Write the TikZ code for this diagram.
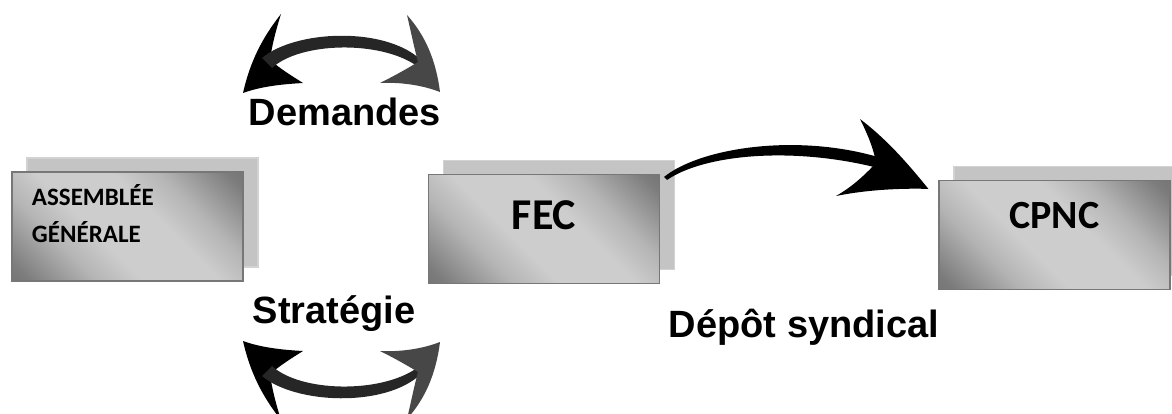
\documentclass[tikz,border=0pt]{standalone}
\usepackage{fontspec}
\setmainfont{Liberation Sans}
\newfontfamily\calib{Carlito}
\usetikzlibrary{shadows,calc}
\definecolor{boxdark}{HTML}{5C5C5C}
\definecolor{boxdk}{HTML}{7C7C7C}
\definecolor{boxmid}{HTML}{B4B4B4}
\definecolor{boxlight}{HTML}{CDCDCD}
\definecolor{shadowgray}{HTML}{C4C4C4}
\definecolor{shadowedge}{HTML}{D2D2D2}
\definecolor{edgegray}{HTML}{777777}
\pgfdeclareverticalshading{boxshade}{100bp}{color(0bp)=(boxdark); color(18bp)=(boxdk);
  color(32bp)=(boxmid); color(42bp)=(boxlight); color(58bp)=(boxlight); color(68bp)=(boxmid);
  color(82bp)=(boxdk); color(100bp)=(boxdark)}
\begin{document}
\begin{tikzpicture}[x=0.5pt,y=-0.5pt,
  box/.style={draw=edgegray, line width=0.6pt, minimum width=115.5pt, minimum height=54.5pt,
    inner sep=0pt, shading=boxshade, shading angle=-45,
    copy shadow={shadow xshift=7.5pt, shadow yshift=7pt, fill=shadowgray, draw=shadowedge}},
  lbl/.style={font=\bfseries\fontsize{19}{22}\selectfont, anchor=base, inner sep=0pt},
  brush/.style={fill=black, draw=none},
  brushlight/.style={fill=black!72, draw=none},
  brushmid/.style={fill=black!85, draw=none},
  dblarrow/.pic={
    % left head
    \fill[brush] (243,93) .. controls (250,62) and (262,38) .. (281,14)
      .. controls (276,30) and (272,45) .. (270,60)
      .. controls (282,70) and (292,76) .. (303,83)
      .. controls (285,84) and (262,86) .. (243,93) -- cycle;
    % shaft
    \fill[brushmid] (262,58) .. controls (295,30) and (385,26) .. (421,60) -- (417,66)
      .. controls (380,40) and (300,42) .. (272,68) -- cycle;
    % right head
    \fill[brushlight] (440,92) .. controls (436,60) and (425,35) .. (407,15)
      .. controls (411,32) and (414,47) .. (418,62)
      .. controls (405,70) and (392,77) .. (380,83)
      .. controls (400,82) and (422,85) .. (440,92) -- cycle;
  }]
\useasboundingbox (0,0) rectangle (1172,413);

% boxes
\node[box, font=\calib\bfseries\fontsize{12.5}{18.5}\selectfont, align=left, text width=95.5pt,
  inner xsep=10pt, text height=10pt, text depth=31.5pt] (ag) at (127.5,226.5) {ASSEMBLÉE\\GÉNÉRALE};
\node[box, font=\calib\bfseries\fontsize{22}{26}\selectfont, text height=14pt, text depth=13.5pt] (fec) at (544,229) {FEC};
\node[box, font=\calib\bfseries\fontsize{20}{24}\selectfont, text height=13pt, text depth=20pt] (cpnc) at (1054.5,235) {CPNC};

% labels
\node[lbl] (dem) at (345,125) {Demandes};
\node[lbl] (strat) at (334,323) {Stratégie};
\node[lbl] (depot) at (804,337) {Dépôt syndical};

% double arrows
\pic (top) at (0,0) {dblarrow};
\pic[yscale=-1] (bot) at (0,434) {dblarrow};

% FEC -> CPNC arrow
\coordinate (fecout) at ($(fec.north east)+(4,3)$);
\coordinate (cpncin) at ($(cpnc.north west)+(-10,9)$);
\fill[brush] (fecout) .. controls (700,148) and (795,133) .. (878,157) -- (882,169)
  .. controls (795,146) and (705,154) .. ($(fecout)+(3,3)$) -- cycle;
\fill[brush] (cpncin) .. controls (905,160) and (885,138) .. (860,119)
  .. controls (868,135) and (874,150) .. (876,163)
  .. controls (862,178) and (850,188) .. (836,196)
  .. controls (865,190) and (900,188) .. (cpncin) -- cycle;
\end{tikzpicture}
\end{document}
